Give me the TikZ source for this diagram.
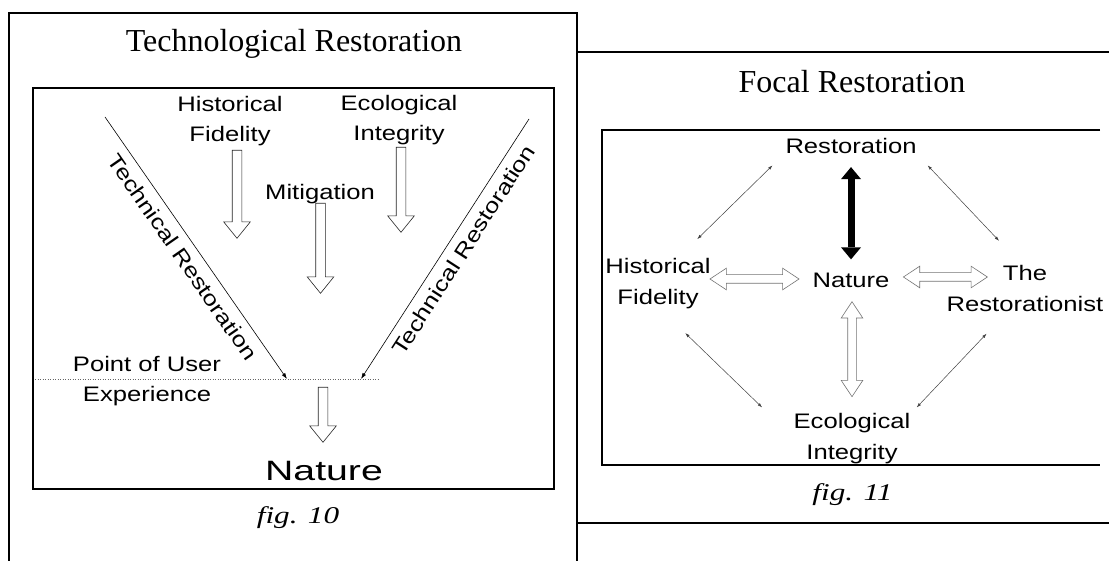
\documentclass[tikz,border=0pt]{standalone}
\usepackage{fontspec}
\setmainfont{Liberation Serif}
\newfontfamily\lblfont[FakeStretch=1.22]{Liberation Sans}
\newfontfamily\bigfont[FakeStretch=1.4]{Liberation Sans}
\newfontfamily\capfont[FakeStretch=1.3]{Liberation Serif}
\usetikzlibrary{arrows.meta,shapes.arrows}

\tikzset{
  frame/.style={line width=1.2pt},
  tag/.style={inner sep=0pt,align=center,font=\lblfont\fontsize{21}{30}\selectfont},
  tagr/.style={tag,font=\lblfont\fontsize{21}{31}\selectfont},
  ttl/.style={inner sep=0pt,anchor=base,font=\fontsize{32}{38}\selectfont},
  figcap/.style={inner sep=0pt,anchor=base,font=\capfont\itshape\fontsize{24}{28}\selectfont},
  hollow/.style={single arrow,draw=black!85,fill=white,line width=0.6pt,
    inner xsep=0pt,inner ysep=4.5pt,minimum width=0pt,
    single arrow head extend=8.5pt,single arrow tip angle=78,rotate=-90,anchor=tail},
  twoway/.style={double arrow,draw=black!55,fill=white,line width=0.6pt,
    inner xsep=0pt,inner ysep=4pt,minimum width=0pt,
    double arrow head extend=6.5pt,double arrow tip angle=67},
  diag/.style={line width=0.6pt,-{Latex[length=6pt,width=4pt]}},
  thinarr/.style={line width=0.5pt,black!75,{Latex[length=4.5pt,width=3pt]}-{Latex[length=4.5pt,width=3pt]}},
  bigarr/.style={line width=7pt,{Triangle[length=12pt,width=20pt,line width=0pt]}-{Triangle[length=12pt,width=20pt,line width=0pt]}}
}

\begin{document}
\begin{tikzpicture}[x=1pt,y=-1pt]
  \useasboundingbox (0,0) rectangle (1109,561);

  % frames
  \draw[frame] (9,561) -- (9,13) -- (577,13) -- (577,561);
  \draw[frame] (577,52) -- (1109,52);
  \draw[frame] (577,523) -- (1109,523);
  \draw[frame] (33,88) rectangle (554,489);
  \draw[frame] (1100,130) -- (602,130) -- (602,465) -- (1100,465);

  % fig. 10
  \node[ttl] (ttla) at (294,52) {Technological Restoration};
  \node[tag] (hf) at (230,120.6) {Historical\\Fidelity};
  \node[tag] (ei) at (399,119.6) {Ecological\\Integrity};
  \node[tag,anchor=base] (mit) at (320,200) {Mitigation};
  \node[tag] (pue) at (147,381.3) {Point of User\\Experience};
  \node[inner sep=0pt,anchor=base,font=\bigfont\fontsize{28}{34}\selectfont] (nat) at (324,480) {Nature};
  \node[figcap] (cap10) at (298,523) {fig. 10};

  \node[hollow,minimum height=88pt] (hfarr) at (237,150) {};
  \node[hollow,minimum height=85pt] (eiarr) at (401,147) {};
  \node[hollow,minimum height=90pt] (mitarr) at (320.5,203) {};
  \node[hollow,minimum height=55pt] (natarr) at (323,387) {};

  \coordinate (tl) at (105,117);
  \coordinate (pl) at (287,379);
  \coordinate (tr) at (529,119);
  \coordinate (pr) at (361,379);
  \coordinate (ux1) at (35,379);
  \coordinate (ux2) at (378,379);
  \draw[line width=0.5pt,black!60,dash pattern=on 1pt off 1.5pt] (ux1) -- (ux2);
  \draw[diag] (tl) -- node[tag,sloped,below=8pt] (tcl) {Technical Restoration} (pl);
  \draw[diag] (tr) -- node[tag,sloped,below=8pt,pos=0.47] (tcr) {Technical Restoration} (pr);

  % fig. 11
  \node[ttl] (ttlb) at (852,93) {Focal Restoration};
  \node[tagr,anchor=base] (resto) at (851,154) {Restoration};
  \node[tagr] (hfr) at (658,283.4) {Historical\\Fidelity};
  \node[tagr,anchor=base] (natr) at (851,288) {Nature};
  \node[tagr] (rist) at (1025,288) {The\\Restorationist};
  \node[tagr] (eir) at (852,438.1) {Ecological\\Integrity};
  \node[figcap] (cap11) at (852.5,500) {fig. 11};

  \draw[bigarr,shorten <=12.7pt,shorten >=14pt] (resto.south) -- (natr.north);
  \node[twoway,minimum height=89pt] (hfnat) at (754.5,279) {};
  \node[twoway,minimum height=84pt] (natrist) at (945.4,277) {};
  \node[twoway,minimum height=95pt,rotate=90] (natei) at (852,349.2) {};

  \draw[thinarr] ([shift={(-12.8,11)}]resto.south west) -- ([shift={(-13.6,-18.8)}]hfr.north east);
  \draw[thinarr] ([shift={(10.9,11)}]resto.south east) -- ([shift={(-26,-23.8)}]rist.north);
  \draw[thinarr] ([shift={(-25.6,24.2)}]hfr.south east) -- ([shift={(-31.3,-5.2)}]eir.north west);
  \draw[thinarr] ([shift={(-38.5,22.3)}]rist.south) -- ([shift={(6.1,-5.2)}]eir.north east);
\end{tikzpicture}
\end{document}
